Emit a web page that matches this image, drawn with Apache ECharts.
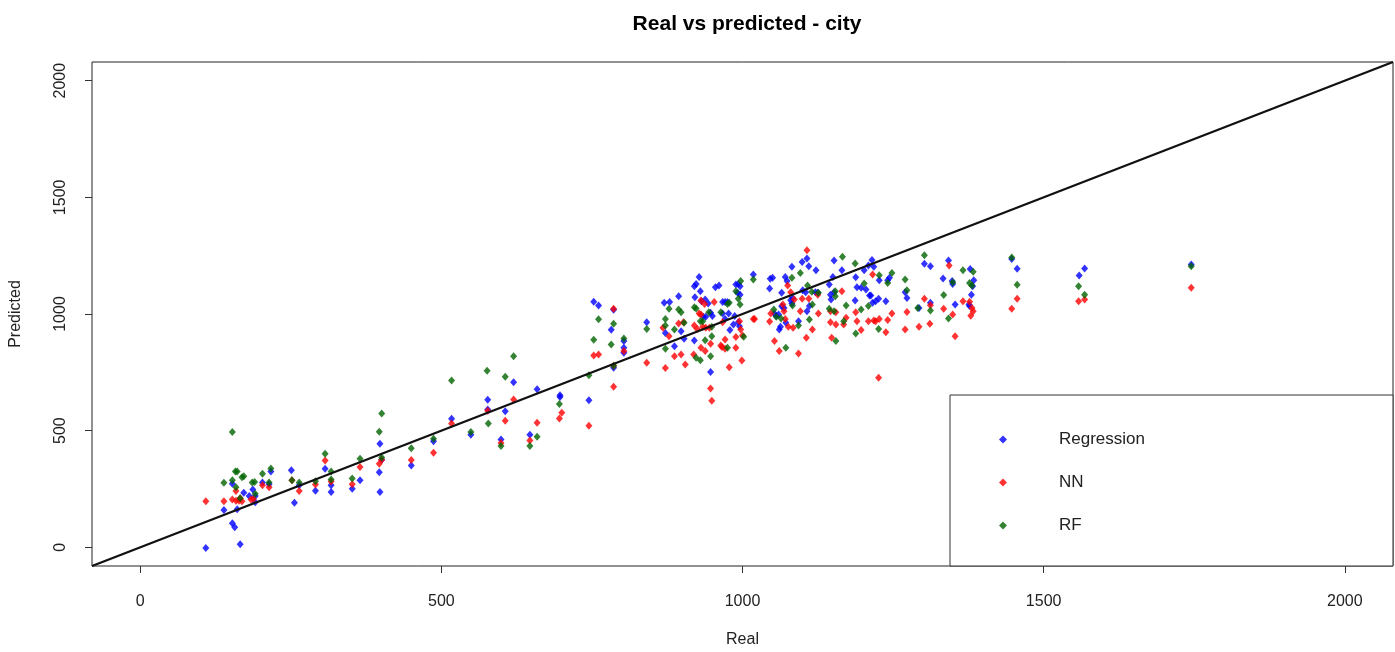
<!DOCTYPE html>
<html>
<head>
<meta charset="utf-8">
<script src="https://cdn.jsdelivr.net/npm/echarts@6/dist/echarts.min.js"></script>
<style>
  html, body { margin: 0; padding: 0; background: #fff; }
  #chart { width: 1395px; height: 652px; }
</style>
</head>
<body>
<div id="chart"></div>
<script>
// valores: [real, predicho]
const regPoints = [
  [109,-3],[139,160],[153,273],[161,163],[153,103],[157,86],[166,13],[172,234],[181,220],[187,248],
  [191,220],[191,193],[203,278],[214,270],[217,325],[251,330],[256,191],[264,266],[291,243],[307,337],
  [317,266],[317,237],[352,251],[365,287],[398,444],[401,375],[397,322],[398,237],[450,351],[487,455],
  [517,551],[549,482],[577,633],[577,591],[599,462],[606,583],[620,708],[647,483],[659,677],[697,652],
  [697,644],[745,630],[753,1052],[761,1036],[786,1018],[782,933],[786,770],[803,884],[803,855],[803,834],
  [928,1159],[923,1129],[920,1119],[930,1098],[894,1076],[870,1048],[879,1051],[921,1072],[932,1055],[938,1062],
  [943,1045],[955,1115],[961,1122],[989,1126],[993,1129],[996,1119],[996,1083],[992,1091],[1018,1169],[967,1051],
  [971,1051],[975,1051],[947,1005],[950,991],[935,988],[939,988],[967,1002],[971,979],[977,1002],[985,955],
  [987,991],[993,965],[995,948],[979,931],[841,965],[872,919],[898,926],[903,894],[920,886],[887,862],
  [947,751],
  [1107,1238],[1110,1205],[1099,1223],[1082,1202],[1122,1188],[1046,1151],[1050,1155],[1071,1159],[1074,1141],[1045,1109],
  [1065,1091],[1152,1229],[1165,1188],[1144,1126],[1150,1159],[1209,1208],[1188,1158],[1190,1115],[1197,1112],[1205,1105],
  [1202,1188],[1211,1079],[1187,1058],[1146,1083],[1152,1093],[1121,1093],[1125,1091],[1105,1093],[1100,1102],[1080,1059],
  [1083,1069],[1082,1045],[1065,1033],[1069,1026],[1053,1002],[1056,991],[1060,998],[1063,945],[1061,934],[1072,962],
  [1093,969],[1107,1012],[1111,1034],[1147,1062],
  [1215,1231],[1218,1202],[1302,1215],[1312,1205],[1342,1229],[1349,1129],[1378,1193],[1384,1145],[1382,1119],[1380,1083],
  [1227,1145],[1241,1145],[1244,1155],[1333,1152],[1348,1141],[1270,1093],[1273,1069],[1213,1079],[1226,1065],[1221,1055],
  [1216,1048],[1238,1055],[1312,1048],[1293,1026],[1353,1041],[1376,1041],[1377,1034],
  [1447,1236],[1456,1194],[1559,1165],[1568,1195],[1745,1212]
]

const nnPoints = [
  [109,198],[139,198],[153,205],[159,200],[164,200],[169,198],[159,241],[166,210],[184,205],[188,207],
  [203,266],[214,257],[252,287],[264,241],[291,269],[307,372],[317,282],[352,270],[365,344],[397,358],
  [401,375],[450,374],[487,405],[517,531],[577,585],[606,542],[599,447],[620,634],[659,534],[647,458],
  [700,577],[696,552],[745,521],[753,822],[761,826],[786,1022],[786,778],[786,688],[803,841],
  [931,1058],[937,1043],[953,1051],[928,1002],[931,998],[894,959],[902,965],[868,941],[878,905],[920,951],
  [925,936],[934,945],[939,941],[945,941],[967,965],[995,969],[989,901],[997,934],[1000,908],[1018,979],
  [971,891],[947,872],[966,859],[964,865],[971,851],[989,855],[931,855],[938,841],[887,819],[898,826],
  [919,826],[905,784],[841,791],[872,769],[978,772],[999,801],[947,681],[949,628],
  [1107,1273],[1020,979],[1047,1002],[1045,968],[1067,1041],[1069,1012],[1071,979],[1075,1122],[1080,1093],[1086,1062],
  [1076,945],[1084,941],[1053,884],[1061,841],[1096,1012],[1099,1065],[1110,1065],[1125,1083],[1126,1002],[1116,934],
  [1106,898],[1093,831],[1146,965],[1155,955],[1146,1012],[1155,1008],[1165,1098],[1168,955],[1172,984],[1148,898],
  [1188,1008],[1190,969],[1197,931],[1209,969],[1216,1169],[1218,972],
  [1343,1208],[1302,1065],[1312,1038],[1366,1055],[1377,1052],[1381,1026],[1383,1012],[1379,993],[1334,1022],[1349,998],
  [1248,1002],[1241,974],[1227,979],[1221,969],[1273,1009],[1270,934],[1238,922],[1293,945],[1311,958],[1353,905],
  [1226,727],
  [1456,1065],[1447,1022],[1558,1055],[1568,1062],[1745,1112]
]

const rfPoints = [
  [153,494],[139,277],[153,288],[158,325],[161,325],[159,258],[169,300],[172,305],[166,210],[186,278],
  [190,280],[191,230],[203,315],[214,278],[217,338],[252,287],[264,278],[291,283],[307,401],[317,325],
  [317,291],[352,295],[365,380],[397,495],[401,574],[401,385],[450,425],[487,465],[517,715],[549,494],
  [576,757],[578,531],[606,731],[599,434],[620,819],[659,474],[647,434],[696,614],[745,737],[761,978],
  [753,890],[786,958],[782,869],[786,778],[803,895],
  [878,1022],[894,1019],[898,1008],[920,1029],[923,1024],[930,969],[934,969],[944,1008],[964,1008],[975,1043],
  [978,1048],[989,1098],[993,1065],[996,1041],[997,1141],[1018,1148],[841,936],[872,979],[872,951],[887,934],
  [903,962],[949,945],[949,905],[938,888],[872,851],[923,812],[930,802],[947,819],[975,855],[1002,902],
  [1166,1245],[1187,1216],[1096,1176],[1108,1122],[1082,1155],[1115,1095],[1126,1091],[1052,1019],[1056,988],[1064,981],
  [1083,1036],[1116,1041],[1154,1098],[1154,1076],[1172,1036],[1144,1022],[1152,1012],[1202,1131],[1209,1034],[1197,1019],
  [1111,976],[1093,951],[1072,855],[1155,884],[1188,916],[1168,969],
  [1302,1252],[1366,1188],[1383,1181],[1227,1166],[1241,1133],[1248,1176],[1270,1148],[1273,1102],[1349,1136],[1377,1133],
  [1381,1122],[1334,1081],[1312,1015],[1291,1026],[1342,981],[1226,936],
  [1447,1242],[1456,1125],[1558,1119],[1568,1082],[1745,1205]
]

// linea y = x
const diagonal = [[-80,-80],[2080,2080]]

const xTicks = [0, 500, 1000, 1500, 2000]
const yTicks = [0, 500, 1000, 1500, 2000]

const names = ['Regression', 'NN', 'RF']
const colors = ['#0000ff', '#ff0000', '#006400']

const chart = echarts.init(document.getElementById('chart'))

const font = 'Liberation Sans, Arial, Helvetica, sans-serif'

const pointSeries = (name, data, color) => ({
  name: name,
  type: 'scatter',
  data: data,
  symbol: 'diamond',
  symbolSize: [7, 8],
  itemStyle: { color: color },
  silent: true
})

chart.setOption({
  animation: false,
  backgroundColor: '#fff',
  textStyle: { fontFamily: font },
  title: {
    text: 'Real vs predicted - city',
    left: 742,
    top: 9,
    textAlign: 'center',
    textStyle: { fontSize: 21, fontWeight: 'bold', color: '#000', fontFamily: font }
  },
  grid: {
    left: 92, right: 2, top: 62, bottom: 86,
    show: true, borderColor: '#222', borderWidth: 1,
    outerBoundsMode: 'none'
  },
  legend: {
    data: names,
    orient: 'vertical',
    left: 950,
    top: 395,
    icon: 'diamond',
    itemWidth: 8,
    itemHeight: 8,
    itemGap: 26,
    padding: [36, 248, 32, 49],
    borderColor: '#333',
    borderWidth: 1,
    backgroundColor: '#fff',
    selectedMode: false,
    textStyle: { fontSize: 17, color: '#222', lineHeight: 16, padding: [0, 0, 0, 47], fontFamily: font }
  },
  xAxis: {
    type: 'value',
    min: -80,
    max: 2080,
    name: 'Real',
    nameLocation: 'middle',
    nameGap: 66,
    nameTextStyle: { fontSize: 16, color: '#222' },
    axisLine: { show: false, onZero: false },
    splitLine: { show: false },
    axisTick: { show: true, customValues: xTicks, length: 7, inside: false, lineStyle: { color: '#333' } },
    axisLabel: { customValues: xTicks, fontSize: 16, color: '#222', margin: 28, formatter: (v) => String(v) }
  },
  yAxis: {
    type: 'value',
    min: -80,
    max: 2080,
    name: 'Predicted',
    nameLocation: 'middle',
    nameRotate: 90,
    nameGap: 68,
    nameTextStyle: { fontSize: 16, color: '#222' },
    axisLine: { show: false, onZero: false },
    splitLine: { show: false },
    axisTick: { show: true, customValues: yTicks, length: 7, inside: false, lineStyle: { color: '#333' } },
    axisLabel: { customValues: yTicks, fontSize: 16, color: '#222', rotate: 90, margin: 23, formatter: (v) => String(v) }
  },
  series: [
    pointSeries(names[0], regPoints, colors[0]),
    pointSeries(names[1], nnPoints, colors[1]),
    pointSeries(names[2], rfPoints, colors[2]),
    {
      name: 'diagonal',
      type: 'line',
      data: diagonal,
      symbol: 'none',
      z: 5,
      silent: true,
      lineStyle: { color: '#111', width: 2.2 }
    }
  ]
})

window.addEventListener('resize', () => {
  chart.resize()
})
</script>
</body>
</html>
